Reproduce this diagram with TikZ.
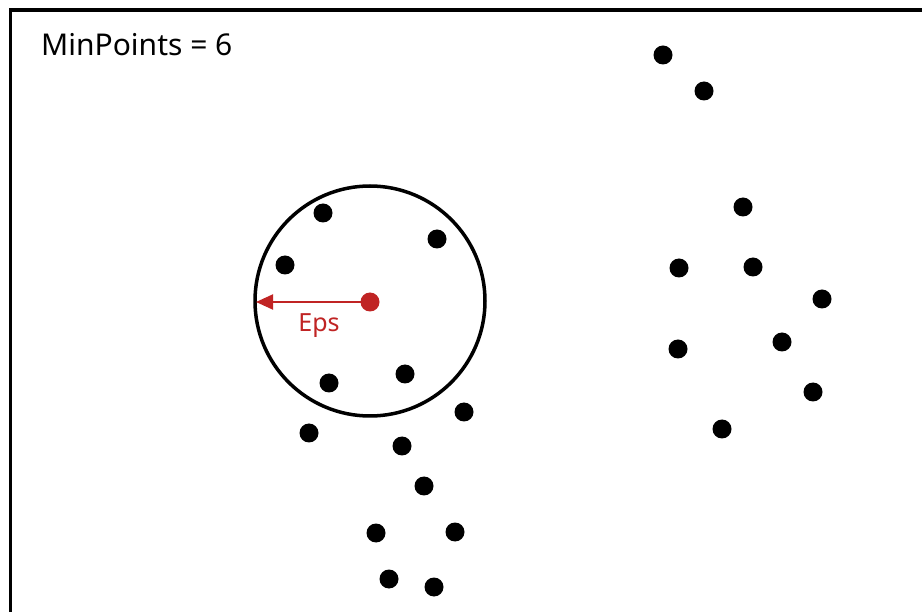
\documentclass[tikz,border=0pt]{standalone}
\usepackage{fontspec}
\setmainfont{Noto Sans}
\usetikzlibrary{arrows.meta}
\definecolor{epsred}{RGB}{192,36,36}
\begin{document}
\begin{tikzpicture}[x=1pt,y=-1pt,
  pt/.style={circle,fill=black,inner sep=0pt,minimum size=19pt},
  frameline/.style={line width=3.5pt,black}]
\useasboundingbox (0,0) rectangle (922,612);
\fill[white] (0,0) rectangle (922,612);
\coordinate (tl) at (10.5,10);
\coordinate (tr) at (922,10);
\coordinate (bl) at (10.5,612);
\draw[frameline] (tr) -- (tl) -- (bl);
\node[anchor=west,inner sep=0pt,font=\fontsize{30}{36}\selectfont] (title) at (41,45) {MinPoints = 6};
% circle
\node[circle,draw=black,line width=3.5pt,minimum size=230pt,inner sep=0pt] (eps) at (370,301) {};
\node[circle,fill=epsred,inner sep=0pt,minimum size=19pt] (c) at (370,302) {};
\coordinate (edge) at (256,302);
\draw[epsred,line width=2pt,-{Triangle[length=17pt,width=15pt]}] (c.center) -- (edge);
\node[text=epsred,font=\fontsize{25}{30}\selectfont,inner sep=0pt] (epslabel) at (319,326) {Eps};
% points
\foreach \i/\x/\y in {a/323/213,b/437/239,c1/285/265,d/329/383,e/405/374,f/464/412,g/309/433,h/402/446,i/424/486,j/376/533,k/455/532,l/389/579,m/434/587,
  n/663/55,o/704/91,p/743/207,q/679/268,r/753/267,s/822/299,t/678/349,u/782/342,v/813/392,w/722/429}
  \node[pt] (p\i) at (\x,\y) {};
\end{tikzpicture}
\end{document}
